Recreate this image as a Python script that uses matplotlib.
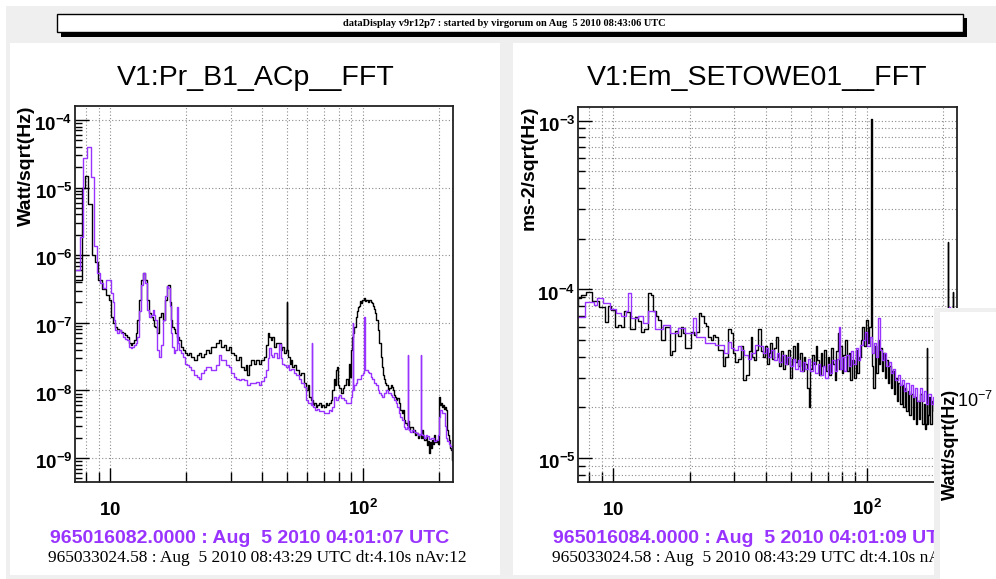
import matplotlib
matplotlib.use('Agg')
import matplotlib.pyplot as plt
from matplotlib.patches import Rectangle
from matplotlib.ticker import FixedLocator, LogLocator, NullFormatter
from matplotlib.transforms import ScaledTranslation

W, H = 996, 579
PURPLE = '#9933ff'

plt.rcParams['mathtext.fontset'] = 'custom'
plt.rcParams['mathtext.bf'] = 'Liberation Sans:bold'
plt.rcParams['mathtext.rm'] = 'Liberation Sans'
plt.rcParams['mathtext.sf'] = 'Liberation Sans'

# ---- data (Hz, amplitude) ----
# left: V1:Pr_B1_ACp__FFT, black = current, purple = reference
lb_f = [7.3, 7.5, 7.62, 7.82, 8.08, 8.3, 8.56, 8.86, 9.1, 9.45, 9.75, 10.0, 10.18, 10.37, 10.56, 10.75,
        10.95, 11.15, 11.36, 11.56, 11.78, 11.99, 12.15, 12.33, 12.5, 12.67, 12.9, 13.14, 13.38, 13.63,
        13.88, 14.13, 14.39, 14.6, 14.79, 15.0, 15.19, 15.47, 15.76, 16.05, 16.34, 16.64, 16.85, 17.05,
        17.27, 17.45, 17.7, 17.91, 18.24, 18.57, 18.91, 19.2, 19.44, 19.98, 20.3, 20.7, 21.2, 21.7, 22.2,
        22.7, 23.2, 23.7, 24.2, 24.8, 25.4, 26.0, 26.6, 27.2, 27.8, 28.5, 29.1, 29.8, 30.5, 31.2, 31.9,
        32.6, 33.3, 34.1, 34.6, 35.1, 35.8, 36.6, 37.4, 38.3, 39.2, 40.1, 41.0, 41.7, 42.3, 42.9, 43.5,
        44.1, 44.9, 45.8, 47.0, 47.6, 48.3, 49.0, 49.7, 50.05, 50.4, 51.0, 51.5, 52.2, 52.9, 53.9, 55.0,
        56.3, 57.5, 58.9, 60.0, 60.8, 61.7, 62.8, 63.7, 64.6, 65.5, 66.4, 67.6, 68.5, 69.5, 70.8, 71.7,
        72.7, 74.1, 75.1, 76.1, 77.0, 77.8, 78.9, 79.5, 80.2, 81.0, 82.5, 83.6, 84.8, 86.3, 87.5, 88.7,
        89.5, 90.3, 91.2, 92.1, 92.9, 94.1, 95.4, 96.2, 97.1, 98.0, 98.9, 100.0, 101.7, 102.6, 103.5,
        105.0, 106.4, 107.8, 109.3, 110.3, 111.3, 112.4, 113.4, 114.9, 116.5, 118.1, 119.7, 120.8, 121.9,
        123.0, 124.2, 125.9, 127.6, 129.3, 131.1, 132.3, 133.5, 134.7, 136.0, 137.8, 139.7, 141.6, 143.6,
        144.9, 146.2, 148.2, 150.3, 151.7, 153.0, 155.1, 157.3, 158.7, 160.2, 161.7, 163.2, 165.4, 167.7,
        170.0, 172.3, 173.9, 175.5, 177.9, 180.3, 182.0, 183.6, 185.2, 186.9, 188.7, 190.4, 192.2, 194.8,
        197.5, 199.3, 201.1, 202.9, 204.8, 206.7, 208.6, 210.5, 212.4, 214.4, 215.4, 216.3, 218.3, 220.3,
        222.4, 224.4, 226.4]
lb_v = [4.3e-7, 4.3e-7, 4.3e-7, 1.0e-5, 1.5e-5, 5.7e-6, 1.0e-6, 7.9e-7, 4.3e-7, 3.2e-7, 2.6e-7, 2.2e-7,
        1.22e-7, 9.9e-8, 8.7e-8, 8.2e-8, 7.8e-8, 7.4e-8, 7.1e-8, 6.5e-8, 6.2e-8, 5.0e-8, 4.7e-8, 5.0e-8,
        5.6e-8, 7.0e-8, 1.1e-7, 2.2e-7, 4.3e-7, 5.45e-7, 4.3e-7, 2.2e-7, 1.4e-7, 1.2e-7, 1.1e-7, 9.0e-8,
        8.7e-8, 7.1e-8, 1.22e-7, 1.4e-7, 1.1e-7, 2.2e-7, 3.5e-7, 3.6e-7, 2.0e-7, 1.1e-7, 8.7e-8, 8.0e-8,
        7.1e-8, 6.2e-8, 5.6e-8, 4.4e-8, 4.0e-8, 3.6e-8, 3.3e-8, 3.6e-8, 3.1e-8, 2.8e-8, 3.3e-8, 3.6e-8,
        3.1e-8, 3.5e-8, 4.0e-8, 3.6e-8, 4.4e-8, 4.4e-8, 5.0e-8, 5.6e-8, 4.4e-8, 4.7e-8, 4.0e-8, 4.4e-8,
        3.6e-8, 3.3e-8, 2.8e-8, 3.1e-8, 2.2e-8, 2.0e-8, 2.4e-8, 1.7e-8, 2.4e-8, 2.8e-8, 2.5e-8, 2.8e-8,
        2.5e-8, 2.8e-8, 3.1e-8, 4.7e-8, 7.1e-8, 6.2e-8, 5.6e-8, 6.2e-8, 4.4e-8, 5.0e-8, 5.0e-8, 4.0e-8,
        4.4e-8, 3.6e-8, 4.0e-8, 2.0e-7, 4.0e-8, 3.1e-8, 2.5e-8, 2.8e-8, 2.2e-8, 2.4e-8, 2.0e-8, 1.7e-8,
        1.8e-8, 1.3e-8, 1.0e-8, 1.2e-8, 8.0e-9, 7.2e-9, 6.1e-9, 6.5e-9, 5.7e-9, 6.1e-9, 6.5e-9, 5.7e-9,
        6.1e-9, 5.7e-9, 6.5e-9, 6.1e-9, 6.5e-9, 7.2e-9, 1.0e-8, 1.5e-8, 1.2e-8, 2.0e-8, 2.2e-8, 1.2e-8,
        1.1e-8, 9.2e-9, 1.1e-8, 1.2e-8, 1.5e-8, 1.2e-8, 2.5e-8, 1.6e-8, 4.0e-8, 6.2e-8, 7.1e-8, 8.7e-8,
        1.22e-7, 1.5e-7, 1.7e-7, 1.8e-7, 2.1e-7, 1.96e-7, 2.2e-7, 2.3e-7, 2.1e-7, 2.2e-7, 2.0e-7, 2.17e-7,
        2.0e-7, 1.96e-7, 1.8e-7, 1.6e-7, 1.4e-7, 1.1e-7, 7.8e-8, 5.0e-8, 3.1e-8, 2.2e-8, 1.7e-8, 1.5e-8,
        1.3e-8, 1.2e-8, 1.0e-8, 1.1e-8, 1.2e-8, 1.12e-8, 1.0e-8, 8.6e-9, 8.0e-9, 7.2e-9, 7.8e-9, 6.5e-9,
        5.1e-9, 4.6e-9, 5.1e-9, 3.65e-9, 3.3e-9, 3.1e-9, 3.5e-9, 2.6e-9, 2.9e-9, 2.9e-9, 2.4e-9, 2.6e-9,
        2.2e-9, 2.35e-9, 2.0e-9, 2.2e-9, 2.0e-9, 2.6e-9, 2.0e-9, 1.85e-9, 2.1e-9, 1.56e-9, 1.8e-9, 1.2e-9,
        1.7e-9, 1.4e-9, 1.85e-9, 1.6e-9, 2.2e-9, 1.7e-9, 1.85e-9, 1.6e-9, 8.0e-9, 6.1e-9, 6.5e-9, 5.7e-9,
        6.1e-9, 5.4e-9, 5.7e-9, 5.1e-9, 3.1e-9, 2.6e-9, 2.2e-9, 1.85e-9, 1.4e-9, 1.3e-9, 9.5e-10]

lp_f = [7.3, 7.5, 7.7, 7.96, 8.25, 8.5, 8.75, 8.97, 9.2, 9.45, 9.7, 9.95, 10.18, 10.3, 10.4, 10.56, 10.75,
        10.95, 11.15, 11.36, 11.56, 11.78, 12.0, 12.15, 12.33, 12.5, 12.67, 12.9, 13.14, 13.38, 13.63,
        13.88, 14.13, 14.39, 14.6, 14.79, 15.0, 15.19, 15.47, 15.76, 16.05, 16.34, 16.64, 16.85, 17.05,
        17.27, 17.45, 17.7, 17.91, 18.24, 18.45, 18.65, 18.91, 19.2, 19.44, 19.98, 20.3, 20.7, 21.2, 21.7,
        22.2, 22.7, 23.2, 23.7, 24.2, 24.8, 25.4, 26.0, 26.6, 27.2, 27.8, 28.5, 29.1, 29.8, 30.5, 31.2,
        31.9, 32.6, 33.3, 34.1, 35.1, 36.2, 37.4, 38.3, 39.2, 40.1, 41.0, 41.7, 42.3, 42.9, 43.5, 44.1,
        44.8, 45.5, 46.2, 47.0, 47.6, 48.3, 49.2, 50.1, 50.8, 51.5, 52.7, 53.9, 55.1, 56.3, 57.5, 58.9,
        60.0, 61.7, 62.5, 62.8, 63.1, 64.0, 65.0, 66.4, 68.0, 69.5, 71.0, 72.7, 74.1, 75.1, 76.1, 77.5,
        78.9, 80.0, 81.0, 82.8, 84.8, 86.8, 88.7, 90.0, 90.9, 91.2, 91.6, 92.9, 94.1, 95.4, 97.1, 98.9,
        100.8, 101.3, 101.8, 103.5, 105.0, 106.4, 107.8, 109.3, 111.3, 113.4, 115.0, 116.5, 118.1, 119.7,
        121.9, 124.2, 125.9, 127.6, 129.3, 131.1, 133.5, 136.0, 137.8, 139.7, 141.6, 143.6, 146.2, 148.2,
        149.9, 150.3, 150.7, 153.0, 155.1, 157.3, 160.2, 163.2, 166.0, 168.8, 169.2, 169.6, 172.3, 175.5,
        178.0, 180.3, 184.0, 188.7, 192.2, 197.5, 199.3, 201.1, 202.9, 204.8, 207.5, 210.5, 212.4, 214.4,
        217.3, 220.3, 223.3, 226.4]
lp_v = [6.0e-7, 6.0e-7, 1.86e-6, 2.74e-5, 4.0e-5, 1.45e-5, 1.37e-6, 5.45e-7, 3.9e-7, 3.3e-7, 4.3e-7,
        4.3e-7, 2.76e-7, 2.0e-7, 1.1e-7, 7.8e-8, 7.1e-8, 7.8e-8, 7.1e-8, 6.2e-8, 5.8e-8, 5.6e-8, 4.4e-8,
        4.2e-8, 4.4e-8, 4.7e-8, 5.0e-8, 6.2e-8, 1.5e-7, 3.6e-7, 5.45e-7, 3.9e-7, 1.55e-7, 1.22e-7, 1.3e-7,
        1.55e-7, 1.3e-7, 1.1e-7, 4.0e-8, 3.1e-8, 4.7e-8, 1.1e-7, 2.5e-7, 3.5e-7, 3.3e-7, 1.8e-7, 7.0e-8,
        4.4e-8, 3.6e-8, 4.0e-8, 1.71e-7, 5.0e-8, 4.0e-8, 3.6e-8, 3.1e-8, 2.5e-8, 2.4e-8, 2.2e-8, 2.0e-8,
        1.7e-8, 1.6e-8, 1.5e-8, 1.8e-8, 2.0e-8, 2.2e-8, 2.2e-8, 2.0e-8, 2.0e-8, 2.4e-8, 3.3e-8, 2.8e-8,
        2.8e-8, 2.4e-8, 2.2e-8, 1.8e-8, 1.58e-8, 1.5e-8, 1.43e-8, 1.5e-8, 1.43e-8, 1.2e-8, 1.3e-8, 1.29e-8,
        1.35e-8, 1.2e-8, 1.4e-8, 1.58e-8, 2.0e-8, 3.0e-8, 4.2e-8, 3.3e-8, 3.1e-8, 3.6e-8, 3.6e-8, 3.0e-8,
        4.9e-8, 3.0e-8, 2.5e-8, 2.4e-8, 2.2e-8, 2.4e-8, 2.0e-8, 2.1e-8, 1.8e-8, 1.7e-8, 1.5e-8, 1.3e-8,
        1.12e-8, 7.2e-9, 6.5e-9, 6.1e-9, 5.0e-8, 6.1e-9, 5.7e-9, 5.1e-9, 5.4e-9, 4.9e-9, 4.9e-9, 4.6e-9,
        4.6e-9, 5.1e-9, 4.9e-9, 5.7e-9, 8.0e-9, 7.2e-9, 8.0e-9, 8.6e-9, 7.8e-9, 7.2e-9, 6.5e-9, 6.5e-9,
        8.0e-9, 1.0e-8, 9.9e-8, 1.0e-8, 1.2e-8, 1.3e-8, 1.5e-8, 1.5e-8, 1.7e-8, 1.8e-8, 1.22e-7, 2.0e-8,
        2.0e-8, 1.9e-8, 1.8e-8, 1.6e-8, 1.5e-8, 1.29e-8, 1.2e-8, 1.0e-8, 9.2e-9, 8.6e-9, 8.0e-9, 9.2e-9,
        1.0e-8, 9.2e-9, 9.2e-9, 8.6e-9, 8.0e-9, 7.2e-9, 6.5e-9, 5.7e-9, 4.6e-9, 4.0e-9, 3.65e-9, 2.9e-9,
        2.7e-9, 2.9e-9, 3.3e-8, 2.8e-9, 2.6e-9, 2.4e-9, 2.6e-9, 2.4e-9, 2.35e-9, 2.2e-9, 2.3e-9, 3.3e-8,
        2.3e-9, 2.2e-9, 2.0e-9, 2.2e-9, 2.1e-9, 1.9e-9, 2.0e-9, 1.8e-9, 1.85e-9, 2.2e-9, 4.0e-9, 5.1e-9,
        5.1e-9, 4.6e-9, 4.6e-9, 3.0e-9, 2.0e-9, 1.8e-9, 1.6e-9, 1.5e-9, 1.3e-9]

# right: V1:Em_SETOWE01__FFT
rb_f = [7.2, 7.35, 7.6, 7.96, 8.5, 9.05, 9.4, 9.6, 10.0, 10.3, 10.6, 10.9, 11.05, 11.4, 11.8, 12.1, 12.3,
        12.7, 13.0, 13.4, 13.9, 14.2, 14.5, 14.9, 15.2, 15.5, 15.9, 16.2, 16.6, 16.9, 17.3, 17.7, 18.2,
        18.7, 19.1, 19.4, 20.0, 20.5, 21.0, 21.5, 21.9, 22.5, 22.9, 23.5, 23.9, 24.5, 25.0, 25.5, 26.2,
        26.9, 27.4, 27.9, 28.7, 29.5, 30.0, 30.6, 31.4, 32.2, 32.9, 33.8, 34.5, 35.1, 35.6, 36.1, 36.9,
        37.8, 38.5, 39.2, 40.0, 40.7, 41.3, 42.0, 42.7, 43.4, 44.1, 44.8, 45.5, 46.2, 47.0, 47.7, 48.5,
        49.3, 50.1, 50.9, 51.7, 52.5, 53.3, 54.2, 55.0, 55.9, 56.8, 57.7, 58.6, 59.5, 60.4, 61.3, 62.3,
        63.3, 64.3, 65.3, 66.3, 67.4, 68.4, 69.5, 70.6, 71.7, 72.9, 74.0, 75.2, 76.4, 77.2, 78.0, 79.0,
        80.2, 81.5, 82.8, 84.1, 85.4, 86.8, 88.2, 89.6, 91.0, 92.4, 93.9, 95.4, 96.9, 98.4, 100.0, 101.5,
        103.0, 104.5, 105.5, 106.8, 108.2, 109.6, 111.0, 112.4, 113.9, 115.4, 117.0, 118.6, 120.2, 121.9,
        123.6, 125.3, 127.0, 128.8, 130.6, 132.4, 134.3, 136.2, 138.1, 140.1, 142.1, 144.1, 146.2, 148.3,
        150.4, 152.6, 154.8, 157.0, 159.3, 161.6, 163.9, 166.3, 168.7, 171.2, 172.6, 173.0, 173.4, 174.5,
        177.1, 179.7, 182.4, 185.1, 190.0, 196.0, 203.0, 208.6, 209.0, 209.4, 212.0, 218.6, 219.0, 219.4,
        224.0, 227.0]
rb_v = [8.1e-5, 8.9e-5, 9.3e-5, 9.6e-5, 8.5e-5, 7.9e-5, 6.4e-5, 8.0e-5, 7.6e-5, 6.0e-5, 6.2e-5, 6.0e-5,
        7.5e-5, 7.4e-5, 5.8e-5, 5.8e-5, 6.9e-5, 6.5e-5, 5.6e-5, 5.8e-5, 9.5e-5, 9.3e-5, 7.5e-5, 7.0e-5,
        6.6e-5, 5.0e-5, 5.0e-5, 6.0e-5, 6.0e-5, 4.1e-5, 4.3e-5, 5.7e-5, 5.3e-5, 6.0e-5, 5.5e-5, 4.5e-5,
        4.5e-5, 5.6e-5, 5.4e-5, 5.6e-5, 7.3e-5, 7.0e-5, 6.3e-5, 6.1e-5, 5.2e-5, 5.0e-5, 5.4e-5, 5.2e-5,
        4.4e-5, 4.4e-5, 3.5e-5, 4.0e-5, 5.8e-5, 5.5e-5, 4.2e-5, 3.7e-5, 3.9e-5, 4.6e-5, 2.9e-5, 3.1e-5,
        4.3e-5, 5.2e-5, 4.0e-5, 3.8e-5, 4.4e-5, 5.8e-5, 4.3e-5, 4.0e-5, 4.6e-5, 3.6e-5, 4.2e-5, 4.8e-5,
        3.9e-5, 4.5e-5, 5.2e-5, 4.0e-5, 3.5e-5, 4.3e-5, 3.4e-5, 4.1e-5, 3.6e-5, 4.4e-5, 3.0e-5, 3.9e-5,
        4.6e-5, 3.7e-5, 4.8e-5, 3.5e-5, 4.2e-5, 3.3e-5, 4.0e-5, 3.6e-5, 2.6e-5, 2.0e-5, 3.4e-5, 4.1e-5,
        3.6e-5, 4.6e-5, 3.8e-5, 3.1e-5, 4.2e-5, 3.5e-5, 4.4e-5, 3.3e-5, 4.0e-5, 3.1e-5, 4.5e-5, 3.6e-5,
        2.9e-5, 4.3e-5, 5.5e-5, 3.4e-5, 4.6e-5, 3.2e-5, 4.1e-5, 5.0e-5, 3.3e-5, 4.2e-5, 2.9e-5, 3.8e-5,
        3.0e-5, 4.4e-5, 3.2e-5, 4.0e-5, 5.0e-5, 6.0e-5, 4.6e-5, 6.6e-5, 4.8e-5, 6.0e-5, 1.02e-3, 3.5e-5,
        2.6e-5, 4.6e-5, 3.2e-5, 5.0e-5, 3.6e-5, 4.5e-5, 3.3e-5, 4.2e-5, 3.0e-5, 3.8e-5, 2.8e-5, 3.5e-5,
        2.6e-5, 3.3e-5, 2.4e-5, 3.0e-5, 2.2e-5, 2.8e-5, 2.1e-5, 2.7e-5, 2.0e-5, 2.6e-5, 1.9e-5, 2.5e-5,
        1.8e-5, 2.4e-5, 1.7e-5, 2.3e-5, 1.6e-5, 2.2e-5, 1.7e-5, 2.4e-5, 1.6e-5, 2.1e-5, 1.5e-5, 1.6e-5,
        4.5e-5, 1.6e-5, 1.8e-5, 2.3e-5, 1.6e-5, 2.2e-5, 1.9e-5, 2.0e-5, 1.8e-5, 1.9e-5, 1.9e-5, 1.9e-4,
        1.8e-5, 1.8e-5, 1.8e-5, 9.7e-5, 1.7e-5, 1.7e-5, 1.6e-5]

rp_f = [7.2, 7.6, 7.8, 8.2, 8.5, 8.8, 9.05, 9.2, 9.6, 9.8, 10.1, 10.3, 10.6, 10.8, 11.05, 11.3, 11.6,
        11.9, 12.4, 12.7, 13.0, 13.2, 13.6, 13.9, 14.5, 14.8, 15.5, 15.9, 16.6, 16.9, 17.7, 18.2, 19.1,
        19.4, 20.5, 20.9, 21.5, 22.5, 23.3, 24.7, 25.5, 26.9, 27.9, 28.7, 29.5, 30.5, 31.5, 32.3, 33.5,
        34.5, 35.4, 36.8, 38.5, 39.5, 40.5, 41.3, 42.5, 43.5, 44.6, 45.7, 46.8, 48.0, 49.2, 50.4, 51.6,
        52.8, 54.0, 55.3, 56.6, 57.9, 59.2, 60.5, 61.9, 63.3, 64.7, 66.2, 67.7, 69.2, 70.8, 72.4, 74.0,
        75.7, 77.4, 78.0, 78.8, 80.5, 82.2, 84.0, 85.8, 87.6, 89.5, 91.4, 93.4, 95.4, 97.4, 99.5, 101.6,
        103.7, 105.9, 108.1, 110.3, 112.0, 113.5, 115.9, 118.3, 120.7, 123.2, 125.7, 128.3, 130.9, 133.6,
        136.3, 139.1, 141.9, 144.8, 147.7, 150.7, 153.8, 156.9, 160.1, 163.3, 166.6, 170.0, 173.4, 176.9,
        180.5, 184.1, 190.0, 196.0, 203.0, 211.6, 212.0, 212.4, 220.0, 227.0]
rp_v = [6.9e-5, 6.9e-5, 8.4e-5, 8.4e-5, 8.1e-5, 8.9e-5, 8.9e-5, 8.3e-5, 8.3e-5, 7.7e-5, 7.7e-5, 7.3e-5,
        7.3e-5, 7.0e-5, 7.0e-5, 7.5e-5, 9.5e-5, 6.8e-5, 6.8e-5, 7.0e-5, 7.0e-5, 6.3e-5, 6.3e-5, 7.5e-5,
        7.5e-5, 5.8e-5, 5.8e-5, 6.2e-5, 6.2e-5, 5.5e-5, 5.5e-5, 5.9e-5, 5.9e-5, 5.5e-5, 5.5e-5, 6.8e-5,
        5.2e-5, 5.2e-5, 4.8e-5, 4.8e-5, 4.7e-5, 4.7e-5, 4.2e-5, 4.9e-5, 4.5e-5, 4.4e-5, 4.6e-5, 4.4e-5,
        4.1e-5, 3.9e-5, 4.2e-5, 4.7e-5, 4.6e-5, 4.2e-5, 4.5e-5, 4.0e-5, 4.4e-5, 3.8e-5, 4.2e-5, 3.7e-5,
        4.1e-5, 3.6e-5, 4.0e-5, 3.5e-5, 3.9e-5, 3.4e-5, 3.8e-5, 3.3e-5, 3.7e-5, 3.4e-5, 3.9e-5, 3.3e-5,
        3.7e-5, 3.2e-5, 3.6e-5, 3.1e-5, 3.5e-5, 3.0e-5, 3.6e-5, 3.2e-5, 3.8e-5, 3.3e-5, 3.9e-5, 6.0e-5,
        3.4e-5, 4.0e-5, 3.3e-5, 4.1e-5, 3.5e-5, 4.3e-5, 3.6e-5, 4.5e-5, 3.8e-5, 4.7e-5, 5.0e-5, 5.6e-5,
        4.6e-5, 5.2e-5, 4.2e-5, 4.8e-5, 4.0e-5, 6.8e-5, 4.4e-5, 3.8e-5, 4.2e-5, 3.5e-5, 3.7e-5, 3.2e-5,
        3.4e-5, 2.9e-5, 3.1e-5, 2.7e-5, 2.9e-5, 2.5e-5, 2.8e-5, 2.4e-5, 2.7e-5, 2.3e-5, 2.6e-5, 2.2e-5,
        2.6e-5, 2.2e-5, 2.5e-5, 2.1e-5, 2.4e-5, 2.1e-5, 2.3e-5, 2.1e-5, 2.0e-5, 2.0e-5, 2.0e-5, 7.9e-5,
        1.9e-5, 1.9e-5, 1.8e-5]

x_major = [10, 100]
x_major_labels = [r'$\mathbf{10}$', r'$\mathbf{10^{2}}$']
x_minor = [8, 9, 20, 30, 40, 50, 60, 70, 80, 90, 200]
left_decades = [-9, -8, -7, -6, -5, -4]
right_decades = [-5, -4, -3]


def fbox(x0, y0, x1, y1):
    return [x0 / W, 1 - y1 / H, (x1 - x0) / W, (y1 - y0) / H]


fig = plt.figure(figsize=(W / 100, H / 100), dpi=100, facecolor='white')


def frect(x0, y0, x1, y1, **kw):
    fig.add_artist(Rectangle((x0 / W, 1 - y1 / H), (x1 - x0) / W, (y1 - y0) / H,
                             transform=fig.transFigure, **kw))


# canvas, pads, banner
frect(6, 6, 996, 579, facecolor='#efefef', edgecolor='none', zorder=-5)
frect(10, 43, 500, 575, facecolor='white', edgecolor='none', zorder=-4)
frect(513, 43, 996, 575, facecolor='white', edgecolor='none', zorder=-4)
frect(61, 18, 967, 37, facecolor='black', edgecolor='none', zorder=-3)
frect(57, 14, 963, 32, facecolor='white', edgecolor='black', linewidth=1, zorder=-2)
fig.text(504 / W, 1 - 23.5 / H, 'dataDisplay v9r12p7 : started by virgorum on Aug  5 2010 08:43:06 UTC',
         ha='center', va='center', family='Liberation Serif', weight='bold', fontsize=7.5)


def setup(ax, decades, ylim, minor_ygrid):
    ax.set_xscale('log')
    ax.set_yscale('log')
    ax.set_xlim(7.25, 227)
    ax.set_ylim(*ylim)
    ax.set_xticks(x_major, labels=x_major_labels)
    ax.xaxis.set_minor_locator(FixedLocator(x_minor))
    ax.xaxis.set_minor_formatter(NullFormatter())
    ax.set_yticks([10.0 ** d for d in decades],
                  labels=[r'$\mathbf{10^{%d}}$' % d for d in decades])
    ax.yaxis.set_minor_locator(LogLocator(base=10, subs=range(2, 10), numticks=30))
    ax.yaxis.set_minor_formatter(NullFormatter())
    ax.tick_params(which='both', direction='in', top=False, right=False, width=1.0, labelsize=13.5)
    ax.tick_params(axis='x', which='major', length=10, pad=24)
    ax.tick_params(axis='x', which='minor', length=7)
    ax.tick_params(axis='y', which='major', length=10, pad=2)
    ax.tick_params(axis='y', which='minor', length=5)
    for lbl in ax.get_xticklabels():
        lbl.set_va('baseline')
    for lbl in ax.get_yticklabels():
        lbl.set_va('top')
        lbl.set_transform(lbl.get_transform() + ScaledTranslation(0, 5 / 100, fig.dpi_scale_trans))
    gkw = dict(color='#8a8a8a', linestyle=(0, (1, 2)), linewidth=0.8)
    ax.grid(which='major', **gkw)
    ax.grid(which='minor', axis='x', **gkw)
    if minor_ygrid:
        ax.grid(which='minor', axis='y', **gkw)
    for s in ax.spines.values():
        s.set_linewidth(1.3)
        s.set_color('#222222')


# left pad
ax1 = fig.add_axes(fbox(75, 106, 453, 482))
ax1.plot(lb_f, lb_v, drawstyle='steps-mid', color='black', lw=1.0)
ax1.plot(lp_f, lp_v, drawstyle='steps-mid', color=PURPLE, lw=1.0)
setup(ax1, left_decades, (4.42e-10, 1.61e-4), False)
fig.text(256 / W, 1 - 85 / H, 'V1:Pr_B1_ACp__FFT', ha='center', va='baseline',
         family='Liberation Sans', fontsize=20.5)
fig.text(26 / W, 1 - 105 / H, 'Watt/sqrt(Hz)', rotation=90, ha='center', va='top',
         family='Liberation Sans', weight='bold', fontsize=14)
fig.text(50 / W, 1 - 543 / H, '965016082.0000 : Aug  5 2010 04:01:07 UTC', color=PURPLE,
         family='Liberation Sans', weight='bold', fontsize=14, va='baseline')
fig.text(48 / W, 1 - 562 / H, '965033024.58 : Aug  5 2010 08:43:29 UTC dt:4.10s nAv:12',
         family='Liberation Serif', fontsize=12.5, va='baseline')

# right pad
ax2 = fig.add_axes(fbox(578, 107, 957, 482))
ax2.plot(rb_f, rb_v, drawstyle='steps-mid', color='black', lw=1.0)
ax2.plot(rp_f, rp_v, drawstyle='steps-mid', color=PURPLE, lw=1.0)
setup(ax2, right_decades, (7.24e-6, 1.205e-3), True)
fig.text(757 / W, 1 - 85 / H, 'V1:Em_SETOWE01__FFT', ha='center', va='baseline',
         family='Liberation Sans', fontsize=20.5)
fig.text(529 / W, 1 - 105 / H, 'ms-2/sqrt(Hz)', rotation=90, ha='center', va='top',
         family='Liberation Sans', weight='bold', fontsize=14)
fig.text(553 / W, 1 - 543 / H, '965016084.0000 : Aug  5 2010 04:01:09 UTC', color=PURPLE,
         family='Liberation Sans', weight='bold', fontsize=14, va='baseline')
fig.text(552 / W, 1 - 562 / H, '965033024.58 : Aug  5 2010 08:43:29 UTC dt:4.10s nAv:12',
         family='Liberation Serif', fontsize=12.5, va='baseline')

# third pad peeking in at the bottom right
ax3 = fig.add_axes(fbox(934, 308, 996, 579), zorder=5)
ax3.set_facecolor('#efefef')
ax3.set_xticks([])
ax3.set_yticks([])
for s in ax3.spines.values():
    s.set_visible(False)
ax3.add_patch(Rectangle((6 / 62, 0), 1, 267 / 271, transform=ax3.transAxes,
                        facecolor='white', edgecolor='none'))
ax3.text(950 / W, 1 - 444 / H, 'Watt/sqrt(Hz)', transform=fig.transFigure, rotation=90,
         ha='center', va='center', family='Liberation Sans', weight='bold', fontsize=13)
ax3.text(993 / W, 1 - 401 / H, r'$\mathsf{10^{-7}}$', transform=fig.transFigure,
         ha='right', va='center', fontsize=13)

fig.savefig('out.png', dpi=100, facecolor=fig.get_facecolor())
